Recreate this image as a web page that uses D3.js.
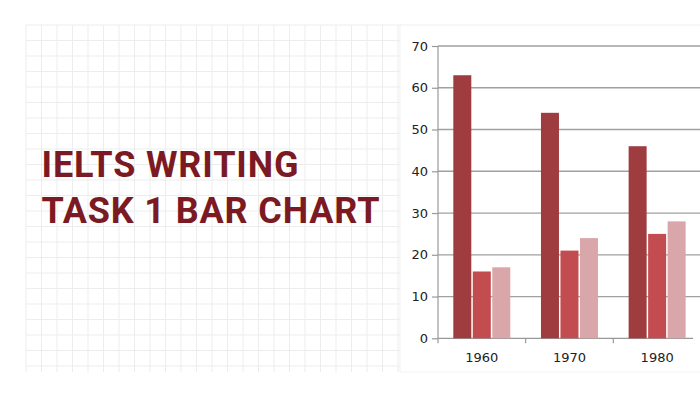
<!DOCTYPE html>
<html>
<head>
<meta charset="utf-8">
<script src="https://cdn.jsdelivr.net/npm/d3@7"></script>
<style>
  html, body { margin: 0; padding: 0; background: #ffffff; }
  svg { display: block; }
</style>
</head>
<body>
<svg id="chart" width="700" height="403"></svg>
<script>
// ---- data ----
const categories = ["1960", "1970", "1980"];
const seriesNames = ["Series A", "Series B", "Series C"];
const seriesA = [63, 54, 46];
const seriesB = [16, 21, 25];
const seriesC = [17, 24, 28];
const yTicks = [0, 10, 20, 30, 40, 50, 60, 70];
const titleLines = ["IELTS WRITING", "TASK 1 BAR CHART"];
const seriesColors = ["#9e3c40", "#c24c50", "#d9a6a9"];

const svg = d3.select("#chart");

// ---- background graph-paper grid ----
const gx0 = 26, gx1 = 403, gy0 = 25, gy1 = 372, step = 15.5;
const grid = svg.append("g").attr("stroke", "#ededed").attr("stroke-width", 1);
d3.range(gx0, gx1 + 0.1, step).forEach(x => {
  grid.append("line").attr("x1", x).attr("x2", x).attr("y1", gy0).attr("y2", gy1);
});
d3.range(gy0, gy1 + 0.1, step).forEach(y => {
  grid.append("line").attr("x1", gx0).attr("x2", gx1).attr("y1", y).attr("y2", y);
});

// ---- title ----
svg.append("g").selectAll("text").data(titleLines).join("text")
  .attr("x", 41.5)
  .attr("y", (d, i) => 176.7 + i * 46)
  .attr("font-family", "Roboto, 'Noto Sans', sans-serif")
  .attr("font-weight", 700)
  .attr("font-size", 36)
  .attr("letter-spacing", 0.85)
  .attr("fill", "#7b1a22")
  .text(d => d);

// ---- chart panel ----
svg.append("rect").attr("x", 400).attr("y", 25).attr("width", 305).attr("height", 347)
  .attr("fill", "#ffffff").attr("stroke", "#f2f2f2");

const x0 = 438, x1 = 701;
const y = d3.scaleLinear().domain([0, 70]).range([338.3, 46]);
const x = d3.scaleBand().domain(categories).range([x0, x1]).padding(0);
const xs = d3.scaleBand().domain(seriesNames).range([15.3, 73.8]).padding(0);

const font = "'DejaVu Sans', Verdana, sans-serif";

// gridlines
svg.append("g").selectAll("line").data(yTicks.filter(d => d > 0)).join("line")
  .attr("x1", x0).attr("x2", 702)
  .attr("y1", d => y(d)).attr("y2", d => y(d))
  .attr("stroke", "#a0a0a0").attr("stroke-width", 1.3);

// y axis
const yAxis = svg.append("g").attr("transform", `translate(${x0},0)`)
  .call(d3.axisLeft(y).tickValues(yTicks).tickSize(6).tickPadding(4));
yAxis.select(".domain").remove();
yAxis.selectAll(".tick line").attr("stroke", "#999").attr("stroke-width", 1.2);
yAxis.selectAll("text").attr("font-family", font).attr("font-size", 13).attr("fill", "#222");
svg.append("line").attr("x1", x0).attr("x2", x0).attr("y1", y(70)).attr("y2", y(0) + 5)
  .attr("stroke", "#999").attr("stroke-width", 1.2);

// baseline & x axis
svg.append("line").attr("x1", x0).attr("x2", 693).attr("y1", y(0)).attr("y2", y(0))
  .attr("stroke", "#999").attr("stroke-width", 1.2);
svg.append("g").selectAll("line").data(categories.slice(1)).join("line")
  .attr("x1", d => x(d)).attr("x2", d => x(d))
  .attr("y1", y(0)).attr("y2", y(0) + 5)
  .attr("stroke", "#999").attr("stroke-width", 1.2);
svg.append("g").selectAll("text").data(categories).join("text")
  .attr("x", d => x(d) + x.bandwidth() / 2)
  .attr("y", 361.5)
  .attr("text-anchor", "middle")
  .attr("font-family", font).attr("font-size", 13).attr("fill", "#222")
  .text(d => d);

// bars
const seriesValues = [seriesA, seriesB, seriesC];
const rows = [];
categories.forEach((c, ci) => {
  seriesNames.forEach((s, si) => {
    rows.push({ cat: c, ser: s, si, v: seriesValues[si][ci] });
  });
});
svg.append("g").selectAll("rect").data(rows).join("rect")
  .attr("x", d => x(d.cat) + xs(d.ser))
  .attr("width", xs.bandwidth() - 1.5)
  .attr("y", d => y(d.v))
  .attr("height", d => y(0) - y(d.v))
  .attr("fill", d => seriesColors[d.si]);
</script>
</body>
</html>
